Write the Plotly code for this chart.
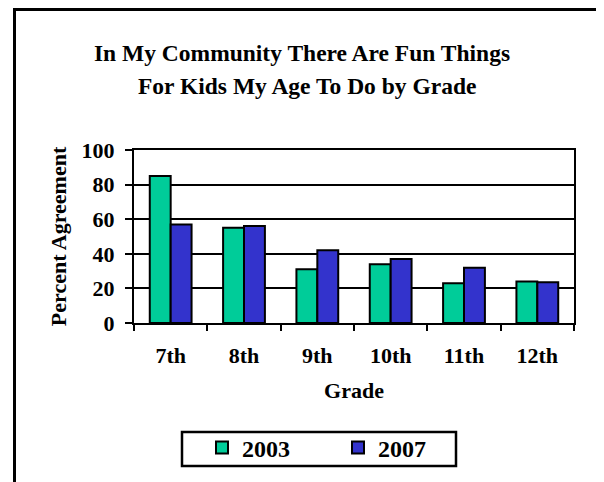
import plotly.graph_objects as go

grades = ["7th", "8th", "9th", "10th", "11th", "12th"]
pct_2003 = [85, 55, 31, 34, 23, 24]
pct_2007 = [57, 56, 42, 37, 32, 23.6]
y_ticks = [0, 20, 40, 60, 80, 100]

FONT = "Liberation Serif"

# page body has an 8px margin; figure sized so it fits the 604x482 window
OFF = 8
W, H = 604 - OFF, 482 - OFF
L, R, T, B = 134 - OFF, 30, 150 - OFF, H - (323 - OFF)
pw = W - L - R
ph = H - T - B


def sx(px):
    return (px - OFF - L) / pw


def sy(py):
    return (H - B - (py - OFF)) / ph


fig = go.Figure()
fig.add_trace(go.Bar(name="2003", x=grades, y=pct_2003,
                     marker=dict(color="#00CC99", line=dict(color="black", width=2))))
fig.add_trace(go.Bar(name="2007", x=grades, y=pct_2007,
                     marker=dict(color="#3333CC", line=dict(color="black", width=2))))

bold = dict(family=FONT, color="black", weight="bold")

fig.update_layout(
    width=W, height=H,
    margin=dict(l=L, r=R, t=T, b=B, pad=0),
    paper_bgcolor="white", plot_bgcolor="white",
    font=dict(bold, size=21),
    barmode="group", bargap=0.43, bargroupgap=0,
    title=dict(text="In My Community There Are Fun Things",
               x=sx(302), xref="paper", xanchor="center",
               y=1 - (53 - OFF) / H, yref="container", yanchor="middle",
               font=dict(bold, size=23.5)),
    showlegend=True,
    legend=dict(orientation="h", x=sx(202), xanchor="left",
                y=sy(448), yanchor="middle",
                bgcolor="rgba(0,0,0,0)", borderwidth=0,
                font=dict(bold, size=24),
                entrywidth=91, itemwidth=30, traceorder="normal"),
    xaxis=dict(showline=True, linecolor="black", linewidth=2, mirror=True,
               ticks="outside", ticklen=6, tickwidth=2, tickcolor="black",
               tickson="boundaries", ticklabelstandoff=12,
               title=dict(text="Grade", font=dict(bold, size=22), standoff=15),
               tickfont=dict(bold, size=22)),
    yaxis=dict(range=[0, 100], tickvals=y_ticks, showline=True, linecolor="black",
               linewidth=2, mirror=True, showgrid=True, gridcolor="black", gridwidth=2,
               ticks="outside", ticklen=7, tickwidth=2, tickcolor="black",
               zeroline=False, ticklabelstandoff=6,
               title=dict(text="Percent Agreement", font=dict(bold, size=22), standoff=9),
               tickfont=dict(bold, size=22)),
)

# second title line
fig.add_annotation(text="For Kids My Age To Do by Grade", xref="paper", yref="paper",
                   x=sx(307), y=sy(86), xanchor="center", yanchor="middle",
                   showarrow=False, font=dict(bold, size=23.5))

# legend frame
fig.add_shape(type="rect", xref="paper", yref="paper",
              x0=sx(182), x1=sx(456), y0=sy(432), y1=sy(466),
              line=dict(color="black", width=2.5), fillcolor="rgba(0,0,0,0)")

# outer chart frame (left and top edges visible)
fig.add_shape(type="path", xref="paper", yref="paper",
              path=f"M {sx(14.5)} {sy(500)} L {sx(14.5)} {sy(9.5)} L {sx(620)} {sy(9.5)}",
              line=dict(color="black", width=3))

fig.write_html("out.html")
